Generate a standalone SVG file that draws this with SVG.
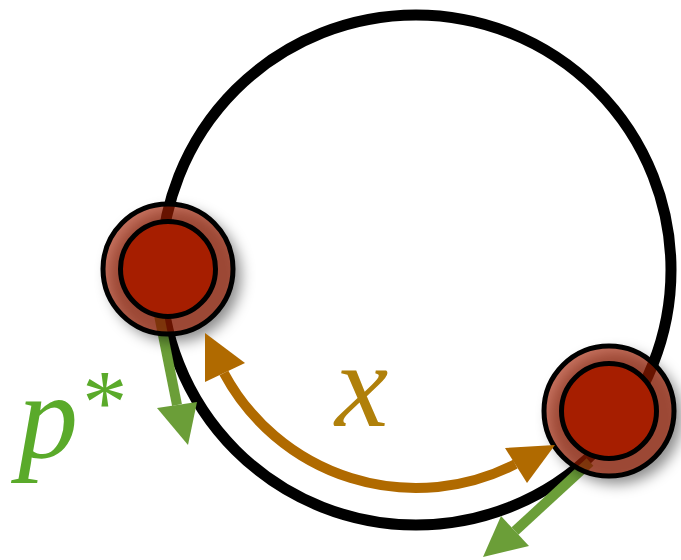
<svg xmlns="http://www.w3.org/2000/svg" width="681" height="560" viewBox="0 0 681 560">
  <defs>
    <filter id="blur" x="-40%" y="-40%" width="180%" height="180%">
      <feGaussianBlur stdDeviation="7"/>
    </filter>
    <style>
      .ring { fill: none; stroke: #000; stroke-width: 11; }
      .shadow { fill: #000; fill-opacity: 0.45; filter: url(#blur); }
      .outer { fill: #a61e00; fill-opacity: 0.62; stroke: #000; stroke-width: 5; }
      .inner { fill: #a61e00; stroke: #000; stroke-width: 5; }
      .gline { fill: none; stroke: #6b9e38; stroke-width: 10; }
      .ghead { fill: #6b9e38; }
      .oline { fill: none; stroke: #b06a00; stroke-width: 10; }
      .ohead { fill: #b06a00; }
      .lbl { font-family: "Liberation Serif", "Times New Roman", serif; font-style: italic; font-size: 120px; }
    </style>
  </defs>

  <g id="track">
    <circle class="ring" cx="416" cy="270" r="255"/>
  </g>

  <g id="connectors">
    <g id="momentum-left">
      <path class="gline" d="M157,305 L177,405"/>
      <polygon class="ghead" points="188,445 157,408 197,402"/>
    </g>
    <g id="momentum-right">
      <path class="gline" d="M590,462 L515,531"/>
      <polygon class="ghead" points="483,557 501,516 529,546"/>
    </g>
  </g>

  <g id="bead-left">
    <circle class="shadow" cx="175" cy="276" r="66"/>
    <circle class="outer" cx="168" cy="269" r="65"/>
    <circle class="inner" cx="168" cy="269" r="47.5"/>
  </g>

  <g id="bead-right">
    <circle class="shadow" cx="616" cy="418" r="66"/>
    <circle class="outer" cx="609" cy="411" r="65"/>
    <circle class="inner" cx="609" cy="411" r="47.5"/>
  </g>

  <g id="distance">
    <path class="oline" d="M515.3,464.1 A218,218 0 0 1 223.9,373"/>
    <polygon class="ohead" points="205,333 205,382 245,363"/>
    <polygon class="ohead" points="555,445 505,448 527,483"/>
  </g>

  <g id="labels">
    <text class="lbl" x="18" y="457" fill="#5aaa2a">p<tspan font-size="90" dy="-24">*</tspan></text>
    <text class="lbl" x="335" y="426" fill="#b0800a">x</text>
  </g>
</svg>
